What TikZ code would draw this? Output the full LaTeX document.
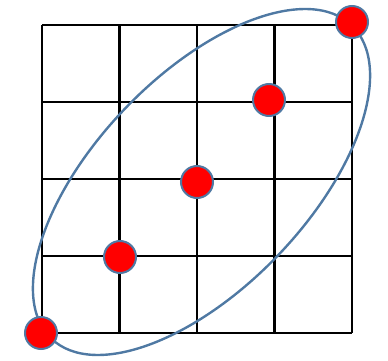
\documentclass[tikz,border=0pt]{standalone}
\usetikzlibrary{calc}
\definecolor{ringblue}{RGB}{79,121,163}
\definecolor{dotred}{RGB}{255,0,0}
\tikzset{
  gridline/.style={line width=2.5pt, black},
  ring/.style={line width=2.4pt, draw=ringblue},
  dot/.style={circle, fill=dotred, draw=ringblue, line width=2pt, minimum size=32pt, inner sep=0pt}
}
\begin{document}
\begin{tikzpicture}[x=1pt,y=-1pt]
\useasboundingbox (0,0) rectangle (388,361);
% grid
\foreach \xx in {42,119.5,197,274.5,352} \draw[gridline] (\xx,25) -- (\xx,333);
\foreach \yy in {25,102,179,256,333} \draw[gridline] (42,\yy) -- (352,\yy);
% ellipse
\draw[ring] (201.5,182) ellipse [x radius=217pt, y radius=106pt, rotate=46.2];
% dots
\node[dot] (d1) at (41,333) {};
\node[dot] (d2) at (120,257) {};
\node[dot] (d3) at (197,182) {};
\node[dot] (d4) at (269,100) {};
\node[dot] (d5) at (352,22) {};
\end{tikzpicture}
\end{document}
